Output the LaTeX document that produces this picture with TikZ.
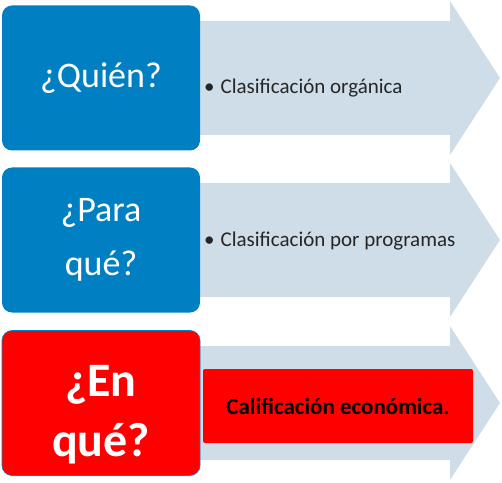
\documentclass[tikz,border=0pt]{standalone}
\usepackage{fontspec}
\setmainfont{Carlito}
\usetikzlibrary{positioning}
\definecolor{askblue}{RGB}{0,128,194}
\definecolor{askred}{RGB}{255,0,0}
\definecolor{arrowgray}{RGB}{207,221,233}

\begin{document}
\begin{tikzpicture}[x=1pt, y=1pt,
    askbox/.style={rounded corners=10pt, minimum width=198pt, minimum height=145pt,
        text=white, align=center, inner sep=0pt, font=\fontsize{36}{54}\selectfont},
    bullettext/.style={anchor=west, inner sep=0pt, text=black!85, font=\fontsize{21}{24}\selectfont}]
    \useasboundingbox (0,0) rectangle (502,482);

    % Background arrows
    \foreach \c in {404, 242, 79} {
        \fill[arrowgray] (150,\c-57) -- (450,\c-57) -- (450,\c-77) -- (500,\c)
            -- (450,\c+77) -- (450,\c+57) -- (150,\c+57) -- cycle;
    }

    % Question boxes
    \node[askbox, fill=askblue] (quien) at (101,404) {¿Quién?};
    \node[askbox, fill=askblue] (paraque) at (101,242) {¿Para\\qué?};
    \node[askbox, fill=askred, draw=askblue, line width=0.6pt,
        label={[text=white, align=center, yshift=-12pt,
            font=\bfseries\fontsize{48}{60}\selectfont]center:¿En\\qué?}] (enque) at (101,79) {};

    % Answers
    \node[bullettext] (organica) at (204,394) {\textbullet\hspace{6pt}Clasificación orgánica};
    \node[bullettext] (programas) at (204,241) {\textbullet\hspace{6pt}Clasificación por programas};
    \node[fill=askred, minimum width=270pt, minimum height=74pt, rounded corners=2pt,
        font=\bfseries\fontsize{23}{28}\selectfont] (economica) at (338,76) {Calificación económica.};
\end{tikzpicture}
\end{document}
